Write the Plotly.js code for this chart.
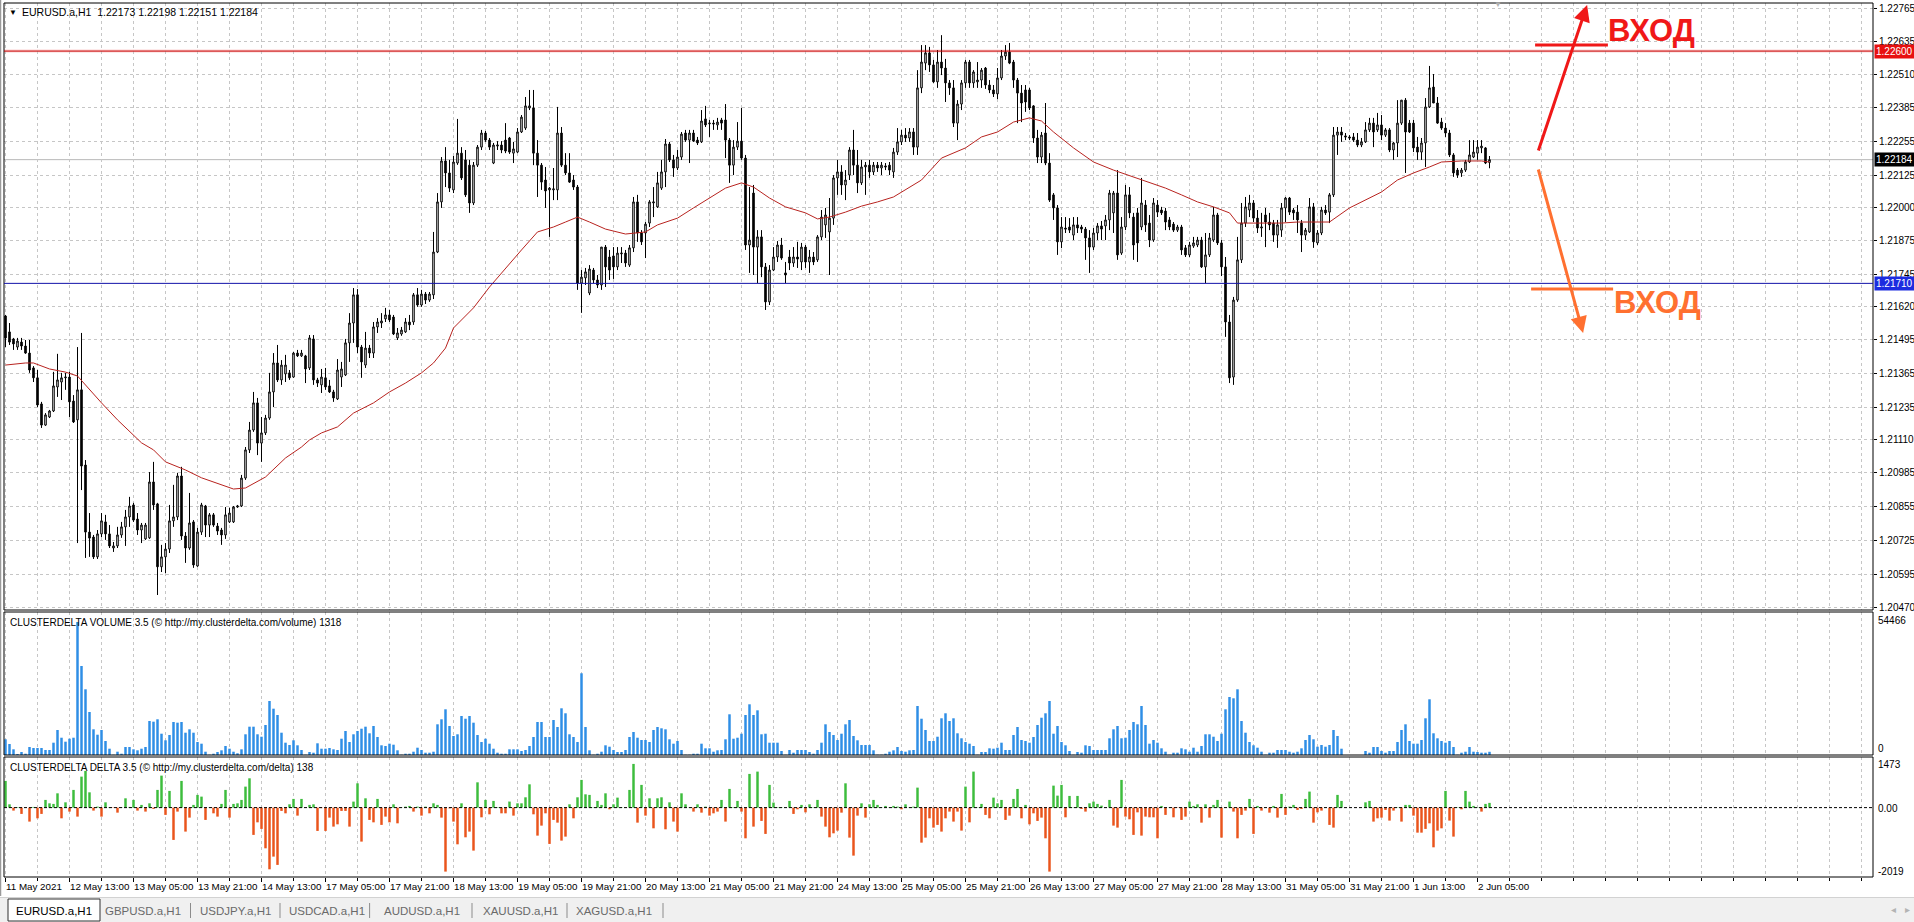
<!DOCTYPE html>
<html>
<head>
<meta charset="utf-8">
<script src="https://cdn.plot.ly/plotly-3.0.1.min.js"></script>
<style>
html,body{margin:0;padding:0;background:#ffffff;overflow:hidden;}
#chart{width:1914px;height:922px;}
</style>
</head>
<body>
<div id="chart"></div>
<script>
// ---- DATA (EURUSD.a, H1, 11 May 2021 21:00 .. 2 Jun 2021 08:00) ----
// prices are stored in points (0.00001) above 1.20000
const SYMBOL = "EURUSD.a,H1";
const OPEN = [
1585,1524,1497,1466,1485,1470,1443,1386,1348,1248,
1167,1198,1221,1313,1332,1348,1351,1259,1187,1302,
1014,757,738,662,750,796,750,696,704,746,
777,815,861,807,765,731,735,949,865,624,
662,692,800,815,972,742,696,796,627,757,
857,784,823,780,765,746,796,796,853,857,
964,1072,1148,1252,1098,1137,1194,1294,1405,1340,
1363,1367,1351,1443,1432,1432,1386,1497,1340,1321,
1348,1317,1294,1267,1351,1359,1482,1558,1666,1466,
1397,1462,1443,1543,1558,1574,1589,1581,1501,1516,
1524,1562,1562,1666,1627,1669,1646,1666,1830,2022,
2179,2133,2068,2171,2209,2183,2163,2018,2163,2232,
2286,2259,2171,2236,2240,2259,2267,2209,2213,2290,
2305,2382,2382,2209,2163,2106,2068,2068,2068,2286,
2163,2133,2106,2079,1711,1731,1673,1761,1723,1704,
1849,1811,1815,1773,1823,1826,1780,1846,2022,1903,
1903,1941,2018,2003,2075,2137,2244,2183,2152,2194,
2286,2259,2286,2259,2252,2340,2321,2324,2317,2336,
2336,2259,2163,2232,2255,2190,1857,2056,1849,1888,
1773,1639,1761,1811,1857,1750,1811,1788,1811,1792,
1849,1792,1811,1800,1888,1934,1907,1960,2114,2137,
2087,2125,2221,2163,2095,2156,2163,2137,2163,2152,
2160,2163,2137,2213,2252,2278,2267,2290,2232,2459,
2554,2593,2547,2482,2558,2535,2478,2459,2324,2397,
2478,2558,2478,2482,2489,2535,2470,2451,2436,2497,
2581,2596,2558,2489,2439,2451,2451,2390,2267,2194,
2286,2171,2049,1999,1869,1922,1926,1895,1934,1926,
1918,1884,1849,1903,1930,1930,1953,1980,2056,1826,
1926,2049,1964,1980,1926,2010,1941,1876,2010,1991,
1987,1953,1937,1914,1926,1846,1819,1853,1857,1876,
1773,1819,1876,1972,1865,1773,1562,1351,1646,1800,
1941,1991,2018,1960,1922,1972,1945,1941,1895,1914,
1999,2037,1991,1983,1941,1895,1907,2003,1865,1903,
1991,1983,2049,2278,2290,2275,2271,2271,2259,2240,
2252,2298,2324,2298,2317,2278,2298,2221,2248,2324,
2412,2324,2324,2232,2213,2248,2386,2462,2401,2328,
2305,2286,2202,2144,2133,2144,2175,2194,2209,2229,
2229,2173];
const HIGH = [
1589,1558,1501,1501,1501,1493,1493,1393,1378,1256,
1213,1225,1371,1440,1367,1367,1371,1282,1466,1520,
1033,830,746,765,830,823,784,719,777,796,
842,892,869,830,792,792,987,1026,869,708,
715,861,938,984,1007,757,907,803,773,869,
861,830,830,792,773,853,850,857,861,976,
1083,1179,1294,1271,1198,1206,1367,1443,1474,1416,
1436,1378,1447,1455,1455,1436,1512,1512,1348,1382,
1386,1340,1302,1420,1409,1497,1596,1692,1688,1474,
1524,1474,1562,1577,1596,1616,1608,1589,1539,1543,
1577,1589,1673,1692,1685,1677,1677,1907,2056,2194,
2232,2183,2198,2340,2232,2221,2183,2175,2240,2298,
2294,2267,2248,2255,2255,2324,2271,2252,2305,2355,
2424,2451,2451,2259,2171,2156,2079,2152,2386,2309,
2209,2209,2125,2087,1761,1769,1780,1769,1742,1849,
1857,1838,1849,1849,1849,1838,1857,2041,2049,1914,
1945,2029,2079,2137,2183,2263,2252,2202,2221,2290,
2298,2298,2298,2271,2374,2390,2336,2336,2344,2344,
2397,2267,2259,2328,2382,2202,2079,2087,1914,1914,
1788,1780,1849,1872,1884,1792,1838,1849,1869,1865,
1857,1838,1830,1895,1991,1999,2037,2125,2183,2163,
2144,2232,2298,2221,2183,2175,2183,2175,2175,2175,
2171,2175,2229,2305,2298,2305,2305,2305,2527,2623,
2623,2616,2566,2604,2661,2570,2489,2489,2412,2489,
2566,2566,2527,2558,2535,2539,2489,2470,2535,2604,
2623,2631,2566,2497,2470,2470,2459,2393,2298,2290,
2401,2209,2056,2010,1964,1964,1960,1964,1964,1934,
1926,1914,1922,1941,1949,1972,2068,2064,2144,1964,
2087,2079,1980,1999,2114,2029,1972,2037,2029,2003,
1999,1964,1945,1934,1934,1857,1869,1888,1888,1888,
1903,1903,2003,1980,1876,1811,1589,1658,1888,2018,
2041,2049,2029,1991,1980,1999,1980,1953,1953,2018,
2041,2041,1999,2010,1953,1922,2037,2018,1914,2003,
2010,2056,2309,2309,2309,2286,2278,2286,2286,2267,
2328,2344,2344,2363,2355,2305,2305,2252,2412,2412,
2420,2336,2336,2271,2267,2420,2543,2512,2424,2344,
2324,2298,2209,2152,2152,2183,2259,2259,2259,2259,
2232,2198];
const LOW = [
1466,1474,1455,1455,1455,1440,1367,1332,1236,1156,
1164,1194,1217,1275,1263,1302,1198,1175,715,918,
658,662,654,654,738,727,696,681,696,735,
704,777,796,746,715,727,731,842,516,604,
600,677,777,803,727,639,689,620,624,746,
738,738,777,746,708,731,792,792,850,853,
957,1060,1141,1052,1026,1129,1187,1236,1332,1321,
1332,1340,1348,1428,1428,1328,1378,1321,1313,1290,
1302,1290,1256,1263,1313,1355,1409,1482,1443,1348,
1386,1424,1424,1520,1539,1562,1562,1512,1493,1509,
1520,1531,1551,1620,1620,1631,1639,1650,1826,1999,
2079,2060,2056,2164,2106,2041,1980,2010,2156,2221,
2252,2221,2167,2221,2209,2209,2206,2171,2209,2286,
2298,2374,2163,2041,2068,1999,1888,2029,2029,2156,
2125,2095,2068,1685,1597,1704,1665,1711,1692,1685,
1696,1723,1727,1761,1788,1773,1773,1830,1869,1857,
1807,1926,1964,1999,2068,2079,2175,2118,2144,2183,
2252,2171,2252,2240,2248,2309,2271,2298,2298,2298,
2190,2095,2125,2221,2183,1838,1750,1742,1711,1734,
1608,1627,1757,1792,1800,1711,1761,1773,1769,1761,
1769,1750,1780,1792,1876,1884,1742,1934,2049,2049,
2029,2106,2125,2056,2087,2049,2114,2125,2137,2125,
2144,2125,2114,2202,2240,2252,2252,2202,2202,2439,
2527,2520,2478,2459,2508,2405,2432,2309,2259,2374,
2459,2459,2459,2459,2459,2455,2439,2424,2416,2489,
2566,2550,2459,2324,2328,2367,2374,2248,2171,2171,
2163,2022,1953,1819,1845,1903,1903,1876,1903,1903,
1800,1750,1838,1876,1876,1876,1914,1903,1800,1819,
1914,1960,1800,1792,1914,1907,1849,1869,1964,1972,
1914,1914,1907,1907,1819,1811,1811,1846,1849,1769,
1711,1811,1869,1857,1738,1505,1328,1321,1639,1788,
1926,1964,1945,1903,1888,1849,1914,1869,1846,1888,
1945,1972,1953,1903,1830,1876,1903,1846,1857,1895,
1972,1941,2041,2202,2252,2259,2259,2252,2232,2232,
2248,2290,2232,2290,2259,2271,2213,2183,2194,2317,
2133,2286,2213,2183,2183,2156,2382,2401,2321,2298,
2271,2194,2118,2114,2118,2137,2171,2190,2183,2209,
2167,2151];
const CLOSE = [
1501,1485,1478,1489,1470,1443,1378,1348,1244,1167,
1206,1221,1317,1340,1348,1351,1256,1179,1302,1010,
757,734,662,750,800,750,704,704,746,777,
815,857,803,765,784,784,949,861,624,662,
692,800,815,972,742,696,792,631,757,861,
784,823,784,761,746,823,830,853,857,964,
1072,1148,1252,1098,1137,1194,1294,1405,1340,1397,
1397,1348,1443,1432,1443,1382,1501,1340,1328,1351,
1313,1294,1271,1378,1382,1482,1558,1666,1466,1409,
1462,1443,1543,1562,1566,1589,1570,1516,1520,1531,
1562,1551,1666,1627,1669,1646,1669,1830,2022,2179,
2133,2075,2175,2209,2114,2049,2018,2163,2232,2286,
2259,2232,2240,2240,2221,2217,2213,2225,2290,2347,
2390,2390,2209,2163,2098,2064,2075,2072,2286,2163,
2133,2098,2079,1711,1734,1754,1765,1723,1704,1849,
1773,1761,1773,1826,1826,1788,1846,2022,1903,1869,
1937,2022,2022,2095,2137,2244,2183,2152,2194,2282,
2259,2286,2255,2248,2332,2317,2324,2321,2328,2324,
2259,2163,2232,2255,2190,1857,1876,1849,1888,1773,
1639,1761,1811,1857,1807,1742,1788,1811,1803,1849,
1792,1811,1792,1888,1964,1972,1960,2114,2137,2087,
2106,2221,2163,2095,2156,2163,2137,2163,2152,2163,
2156,2144,2213,2252,2278,2267,2290,2232,2459,2558,
2593,2547,2482,2558,2535,2478,2459,2324,2397,2478,
2558,2478,2520,2489,2527,2470,2451,2436,2497,2581,
2596,2554,2489,2439,2401,2405,2382,2267,2194,2278,
2171,2029,1999,1869,1926,1918,1914,1934,1922,1918,
1884,1849,1903,1930,1918,1953,2056,2056,1819,1926,
2049,1980,1857,1865,2018,1934,1876,2018,1983,1980,
1945,1926,1914,1926,1838,1819,1857,1865,1876,1773,
1819,1884,1972,1865,1773,1562,1348,1646,1800,1941,
2003,2018,1960,1922,1926,1945,1934,1895,1934,1999,
2037,1983,1980,1953,1895,1914,2003,1869,1903,1991,
1980,2049,2278,2290,2278,2271,2267,2259,2240,2252,
2298,2324,2290,2317,2278,2298,2221,2248,2324,2412,
2290,2290,2229,2213,2248,2386,2459,2401,2324,2305,
2286,2202,2133,2125,2144,2175,2202,2213,2232,2236,
2171,2184];
// moving average (sampled at bar indices), same point units
const MA_INDEX = [0,5,7,11,15,18,24,28,34,37,40,45,49,54,57,60,65,70,74,76,
79,83,87,92,96,100,104,107,110,112,117,121,125,129,133,137,140,143,146,150,
155,160,163,168,172,176,180,184,187,191,195,200,203,206,210,214,218,222,226,229,
234,240,244,248,252,256,259,262,267,272,277,282,286,290,294,298,302,306,308,311,
319,323,331,336,340,344,348,352,356,359,364,369,371];
const MA_VALUE = [1397,1405,1405,1382,1370,1355,1252,1187,1099,1072,1026,995,965,938,922,926,968,1041,1083,1110,
1137,1160,1213,1252,1294,1328,1367,1405,1462,1539,1616,1696,1769,1838,1907,1926,1945,1964,1945,1918,
1899,1907,1934,1960,1999,2037,2075,2095,2079,2037,2003,1980,1957,1964,1983,2006,2022,2041,2079,2106,
2190,2229,2271,2290,2328,2344,2332,2290,2229,2175,2144,2118,2095,2075,2049,2022,2003,1980,1941,1941,
1941,1945,1945,1999,2029,2060,2106,2133,2156,2175,2179,2179,2175];
const VOLUME = [
6430,4500,2330,410,1230,530,3280,2870,2870,2870,
2050,2050,5040,10240,7080,5450,6670,7080,54466,36440,
26900,17610,10520,8310,10240,5730,2580,120,1350,530,
3280,3280,2330,1920,2580,3280,13920,13640,14620,8720,
6020,8190,13510,13230,13510,9130,10520,9130,5320,4630,
1350,120,530,1230,1920,3690,2580,1350,700,2330,
8480,11590,11590,8480,7490,12290,22110,18960,16380,9130,
5040,4100,6020,3970,2050,120,1230,940,4790,2580,
2580,2870,2330,2050,6670,9830,5320,8480,9830,10770,
11590,8890,11880,7370,3970,3690,4630,4220,1920,120,
530,530,1350,2990,2050,940,940,1350,12570,14620,
18710,11880,7780,8480,15970,14860,15970,13230,8190,5320,
6670,4630,2580,940,530,530,2330,2330,2330,1640,
2050,3690,7370,13510,13510,7370,7370,14330,11470,19120,
17080,8480,7370,5320,33460,11470,1920,120,530,1350,
3970,3400,2050,1230,1230,2050,7370,9420,7080,6140,
6140,5320,10240,11470,10930,10520,6430,4630,5730,2050,
120,120,530,530,4630,2740,2740,1350,1920,2050,
6430,16670,6670,7080,8720,16380,20760,16380,18300,8480,
8720,5040,5040,5040,1640,120,2050,940,2050,2050,
2050,1230,530,2050,5040,12570,9420,8190,6140,8720,
12570,14330,7780,6020,4100,4100,4100,1920,120,120,
530,1350,1920,3280,1640,1350,1920,2050,20070,14860,
10240,5730,5730,7490,15030,17080,13920,15030,8890,6840,
5320,4630,3690,120,1230,1230,2740,2580,2990,5040,
2050,2050,8190,11470,6140,5730,5040,7370,12290,15270,
17080,22110,8720,11880,5320,3970,1640,120,1230,940,
3970,3690,2050,2050,2050,2050,6840,10520,11880,6840,
7080,10240,13510,12570,20070,12290,4630,6140,5040,2740,
1350,120,940,940,2740,2330,1350,2990,1350,3690,
8480,8480,7490,5730,8720,18710,23750,23220,26900,13920,
9130,5320,3970,2990,1350,120,940,940,2050,2050,
2050,1350,940,1350,2740,6140,8190,6430,3400,4100,
3400,4100,10240,7780,2580,0,0,0,0,0,
1640,940,3280,3280,1640,940,1640,1640,5320,10240,
12570,5730,4630,4630,6140,15030,22810,8890,6840,5730,
5040,5730,3280,120,940,1350,3280,1350,1230,940,
940,1318];
const DELTA = [
777,96,-87,15,-183,-12,-407,20,-311,-183,
224,125,108,416,-311,154,-116,515,-262,902,
1068,445,-87,29,-262,154,15,-10,-146,12,
271,20,224,-87,79,-116,125,-38,515,931,
-212,486,-940,-116,777,-698,-291,79,370,320,
-358,10,-166,-262,108,515,-291,108,125,224,
611,853,-794,-428,-620,-1184,-1795,-1426,-1667,-96,
-166,96,253,-233,253,10,79,96,-678,-15,
-678,-291,-553,-486,-96,-96,-553,175,707,-989,
271,-358,-428,253,-503,-262,-428,96,-457,8,
29,49,-116,29,-233,29,-166,125,79,-291,
-1862,-20,-407,-1068,125,-864,-698,-1251,736,-282,
224,-195,195,15,-166,-166,175,-233,125,125,
300,678,-195,-815,-524,-166,-1056,-358,-437,-960,
-844,96,-311,300,806,387,370,10,195,79,
416,-49,96,291,12,-10,515,1272,-437,661,
-233,271,-602,271,300,-631,154,-407,-698,416,
96,10,-116,96,-146,29,-233,-166,-116,224,
-407,544,15,195,-116,-893,981,-553,1048,-387,
-765,661,146,15,12,5,195,-183,-49,79,
-137,96,12,224,-262,-553,-864,-748,-669,-146,
707,-873,-1397,-233,125,-291,96,224,79,10,
49,12,49,29,-49,96,10,29,582,-1019,
-873,-311,-582,-503,-698,-311,-116,-407,-116,-669,
611,-428,1048,10,108,-212,-311,291,125,224,
-358,-233,253,544,-311,79,-486,-166,-387,-291,
-893,-1862,640,349,661,-282,340,10,340,-38,
-116,125,175,108,58,10,224,-524,-582,806,
-262,-340,-794,-137,-815,-262,-282,-282,-893,49,
-212,10,-282,-10,-358,-262,175,49,96,-437,
96,-291,79,224,-873,15,175,-116,-893,-212,
-87,253,-765,49,-87,10,-146,49,-291,399,
-212,29,79,-67,-38,253,466,-437,-137,-87,
10,-503,-582,370,195,0,0,0,0,0,
154,195,-407,-311,-291,-67,-378,-87,10,-407,
79,79,-233,-728,-728,-620,-457,-1155,-669,-602,
486,-378,-844,10,-49,486,175,49,10,-116,
108,138];
// time labels, one every 16 hourly bars starting at the first bar
const TIME_LABELS = ["11 May 2021","12 May 13:00","13 May 05:00","13 May 21:00","14 May 13:00",
"17 May 05:00","17 May 21:00","18 May 13:00","19 May 05:00","19 May 21:00","20 May 13:00",
"21 May 05:00","21 May 21:00","24 May 13:00","25 May 05:00","25 May 21:00","26 May 13:00",
"27 May 05:00","27 May 21:00","28 May 13:00","31 May 05:00","31 May 21:00","1 Jun 13:00","2 Jun 05:00"];
const LABEL_STEP = 16;
const PRICE_TICKS = [1.22765,1.22635,1.22510,1.22385,1.22255,1.22125,1.22000,1.21875,1.21745,
1.21620,1.21495,1.21365,1.21235,1.21110,1.20985,1.20855,1.20725,1.20595,1.20470];
const LEVEL_UP = 1.22600;     // red horizontal level
const LEVEL_DOWN = 1.21710;   // blue horizontal level
const DELTA_SCALE_MAX = 1473;
const DELTA_SCALE_MIN = -2019;
const TABS = ["EURUSD.a,H1","GBPUSD.a,H1","USDJPY.a,H1","USDCAD.a,H1","AUDUSD.a,H1","XAUUSD.a,H1","XAGUSD.a,H1"];
const ENTRY_TEXT = "ВХОД";

// ---- BUILD ----
const P = v => 1.2 + v / 1e5;
const fmt5 = v => v.toFixed(5);
const N = OPEN.length;
const IDX = OPEN.map((_, k) => k);
const last = N - 1;
const BID = P(CLOSE[last]);
const VOL_MAX = Math.max(...VOLUME);

const FONT = "Liberation Sans, Arial, sans-serif";
const GRID = "#c6c6c6";
const DASH = "3px,3px";

// layout geometry in pixels (figure 1914x922)
const W = 1914, H = 922, ML = 4, MR = 41, MT = 3, MB = 45;
const PW = W - ML - MR, PH = H - MT - MB;
const px2x = x => (x - ML) / PW;
const py2y = y => (H - MB - y) / PH;
const DOM_MAIN = [py2y(610), 1];
const DOM_VOL = [py2y(755), py2y(612)];
const DOM_DELTA = [0, py2y(757)];

const traces = [
  {type:'candlestick', x:IDX, open:OPEN.map(P), high:HIGH.map(P), low:LOW.map(P), close:CLOSE.map(P),
   xaxis:'x', yaxis:'y', whiskerwidth:0, hoverinfo:'skip',
   increasing:{line:{color:'#000000', width:1}, fillcolor:'#ffffff'},
   decreasing:{line:{color:'#000000', width:1}, fillcolor:'#000000'}},
  {type:'scatter', mode:'lines', x:MA_INDEX, y:MA_VALUE.map(P), xaxis:'x', yaxis:'y',
   line:{color:'#b8231f', width:1}, hoverinfo:'skip'},
  {type:'bar', x:IDX, y:VOLUME, xaxis:'x', yaxis:'y2', width:0.62,
   marker:{color:'#2e8ee6', line:{width:0}}, hoverinfo:'skip'},
  {type:'bar', x:IDX, y:DELTA, xaxis:'x', yaxis:'y3', width:0.62,
   marker:{color:DELTA.map(v => v >= 0 ? '#3dbd3d' : '#ea541c'), line:{width:0}}, hoverinfo:'skip'}
];

const shapes = [];
// panel frames
[DOM_MAIN, DOM_VOL, DOM_DELTA].forEach(d => shapes.push({type:'rect', xref:'paper', yref:'paper',
  x0:0, x1:1, y0:d[0], y1:d[1], line:{color:'#000000', width:1}, layer:'above'}));
// levels
shapes.push({type:'line', xref:'paper', yref:'y', x0:0, x1:1, y0:BID, y1:BID, line:{color:'#b9b9b9', width:1}, layer:'below'});
shapes.push({type:'line', xref:'paper', yref:'y', x0:0, x1:1, y0:LEVEL_UP, y1:LEVEL_UP, line:{color:'rgba(235,60,60,0.22)', width:3}, layer:'below'});
shapes.push({type:'line', xref:'paper', yref:'y', x0:0, x1:1, y0:LEVEL_UP, y1:LEVEL_UP, line:{color:'#c80000', width:1}, layer:'above'});
shapes.push({type:'line', xref:'paper', yref:'y', x0:0, x1:1, y0:LEVEL_DOWN, y1:LEVEL_DOWN, line:{color:'#1212a8', width:1}, layer:'above'});
// delta zero line
shapes.push({type:'line', xref:'paper', yref:'y3', x0:0, x1:1, y0:0, y1:0, line:{color:'#000000', width:1, dash:'3px,2px'}, layer:'above'});
// drawn entry marks
shapes.push({type:'line', xref:'x', yref:'y', x0:382.4, x1:400.6, y0:1.226232, y1:1.226232, line:{color:'#f01818', width:3}});
shapes.push({type:'line', xref:'x', yref:'y', x0:381.4, x1:401.9, y0:1.216884, y1:1.216884, line:{color:'#ff7030', width:3}});
// window frame / tab bar
shapes.push({type:'line', xref:'paper', yref:'paper', x0:px2x(0.5), x1:px2x(0.5), y0:py2y(896), y1:py2y(0), line:{color:'#9a9a9a', width:1.5}});
shapes.push({type:'rect', xref:'paper', yref:'paper', x0:px2x(0), x1:px2x(W), y0:py2y(H), y1:py2y(897), fillcolor:'#f0f0f0', line:{width:0}});
shapes.push({type:'line', xref:'paper', yref:'paper', x0:px2x(0), x1:px2x(W), y0:py2y(897.5), y1:py2y(897.5), line:{color:'#d2d2d2', width:1}});
shapes.push({type:'rect', xref:'paper', yref:'paper', x0:px2x(8), x1:px2x(100), y0:py2y(921), y1:py2y(899), fillcolor:'#ffffff', line:{color:'#303030', width:1}});
[190.5, 280, 369.6, 472, 567, 663].forEach(x => shapes.push({type:'line', xref:'paper', yref:'paper',
  x0:px2x(x), x1:px2x(x), y0:py2y(918), y1:py2y(903), line:{color:'#8c8c8c', width:1}}));

const annotations = [];
const txt = (x, y, text, opts) => annotations.push(Object.assign({xref:'paper', yref:'paper', x:x, y:y, text:text,
  showarrow:false, xanchor:'left', yanchor:'middle', font:{family:FONT, size:10, color:'#000000'}}, opts || {}));
// header
txt(px2x(7), py2y(12), '▼', {font:{family:FONT, size:8, color:'#000000'}});
txt(px2x(20), py2y(12), SYMBOL + '&nbsp;&nbsp;' + [OPEN[last], HIGH[last], LOW[last], CLOSE[last]].map(v => fmt5(P(v))).join(' '),
  {font:{family:FONT, size:10.5, color:'#000000'}});
txt(px2x(1498), py2y(5), '▼', {xanchor:'center', font:{family:FONT, size:8, color:'#b0b0b0'}});
// indicator titles
txt(px2x(8), py2y(622), 'CLUSTERDELTA VOLUME 3.5 (© http://my.clusterdelta.com/volume) ' + VOLUME[last]);
txt(px2x(8), py2y(767), 'CLUSTERDELTA DELTA 3.5 (© http://my.clusterdelta.com/delta) ' + DELTA[last]);
// indicator scale labels
txt(1, py2y(620), String(VOL_MAX), {xshift:3});
txt(1, py2y(748), '0', {xshift:3});
txt(1, py2y(764), String(DELTA_SCALE_MAX), {xshift:3});
txt(1, py2y(808), '0.00', {xshift:3});
txt(1, py2y(871), String(DELTA_SCALE_MIN), {xshift:3});
// level price boxes
[[LEVEL_UP, '#e81010'], [LEVEL_DOWN, '#1c2ce0'], [BID, '#000000']].forEach(([v, c]) =>
  annotations.push({xref:'paper', yref:'y', x:1, y:v, text:fmt5(v), showarrow:false, xanchor:'left', yanchor:'middle',
    xshift:1, bgcolor:c, borderpad:1, font:{family:FONT, size:10, color:'#ffffff'}}));
// entry arrows + labels
annotations.push({xref:'x', yref:'y', axref:'x', ayref:'y', x:395.4, y:1.227765, ax:383.1, ay:1.222133, text:'',
  showarrow:true, arrowhead:2, arrowsize:1.1, arrowwidth:3, arrowcolor:'#f01818'});
annotations.push({xref:'x', yref:'y', axref:'x', ayref:'y', x:394.4, y:1.215198, ax:383.1, ay:1.221520, text:'',
  showarrow:true, arrowhead:2, arrowsize:1.1, arrowwidth:3, arrowcolor:'#ff7030'});
annotations.push({xref:'x', yref:'y', x:411.4, y:1.226788, text:'<b>' + ENTRY_TEXT + '</b>', showarrow:false,
  xanchor:'center', yanchor:'middle', font:{family:FONT, size:31, color:'#f01818'}});
annotations.push({xref:'x', yref:'y', x:413.1, y:1.216367, text:'<b>' + ENTRY_TEXT + '</b>', showarrow:false,
  xanchor:'center', yanchor:'middle', font:{family:FONT, size:31, color:'#ff7030'}});
// tabs
const TAB_X = [54, 143, 235, 327, 421.5, 520, 614];
TABS.forEach((t, k) => txt(px2x(TAB_X[k]), py2y(911), t, {xanchor:'center',
  font:{family:FONT, size:11.5, color: k === 0 ? '#000000' : '#6a6a6a'}}));
txt(px2x(1893), py2y(909), '◂', {xanchor:'center', font:{family:FONT, size:10, color:'#b4b4b4'}});
txt(px2x(1907), py2y(909), '▸', {xanchor:'center', font:{family:FONT, size:10, color:'#b4b4b4'}});

const layout = {
  width:W, height:H, autosize:false,
  margin:{l:ML, r:MR, t:MT, b:MB, pad:0},
  paper_bgcolor:'#ffffff', plot_bgcolor:'#ffffff',
  showlegend:false, hovermode:false, dragmode:false,
  barmode:'overlay', boxgap:0.45,
  font:{family:FONT, size:10, color:'#000000'},
  xaxis:{domain:[0,1], anchor:'y3', range:[-0.375, 466.875], autorange:false, fixedrange:true,
    rangeslider:{visible:false},
    tickmode:'array', tickvals:TIME_LABELS.map((_, k) => k * LABEL_STEP), ticktext:TIME_LABELS,
    ticks:'outside', ticklen:4, tickcolor:'#000000', tickwidth:1,
    ticklabelposition:'outside right', tickangle:0, automargin:false,
    tickfont:{family:FONT, size:9.8, color:'#000000'},
    showgrid:true, gridcolor:GRID, griddash:DASH, gridwidth:1,
    minor:{tickmode:'linear', tick0:0, dtick:8, ticks:'outside', ticklen:3, tickcolor:'#000000',
      showgrid:true, gridcolor:GRID, griddash:DASH, gridwidth:1},
    zeroline:false, showline:false},
  yaxis:{domain:DOM_MAIN, anchor:'x', side:'right', range:[1.204585, 1.227842], autorange:false, fixedrange:true,
    tickmode:'array', tickvals:PRICE_TICKS, ticktext:PRICE_TICKS.map(fmt5),
    ticks:'outside', ticklen:3, tickcolor:'#000000', automargin:false,
    tickfont:{family:FONT, size:10, color:'#000000'},
    showgrid:true, gridcolor:GRID, griddash:DASH, gridwidth:1, zeroline:false, showline:false},
  yaxis2:{domain:DOM_VOL, anchor:'x', side:'right', range:[0, VOL_MAX * 1.075], autorange:false, fixedrange:true,
    showticklabels:false, ticks:'', showgrid:false, zeroline:false, showline:false},
  yaxis3:{domain:DOM_DELTA, anchor:'x', side:'right', range:[DELTA_SCALE_MIN, DELTA_SCALE_MAX], autorange:false, fixedrange:true,
    showticklabels:false, ticks:'', showgrid:false, zeroline:false, showline:false},
  shapes:shapes,
  annotations:annotations
};

Plotly.newPlot('chart', traces, layout, {staticPlot:true, displayModeBar:false, responsive:false});
</script>
</body>
</html>
